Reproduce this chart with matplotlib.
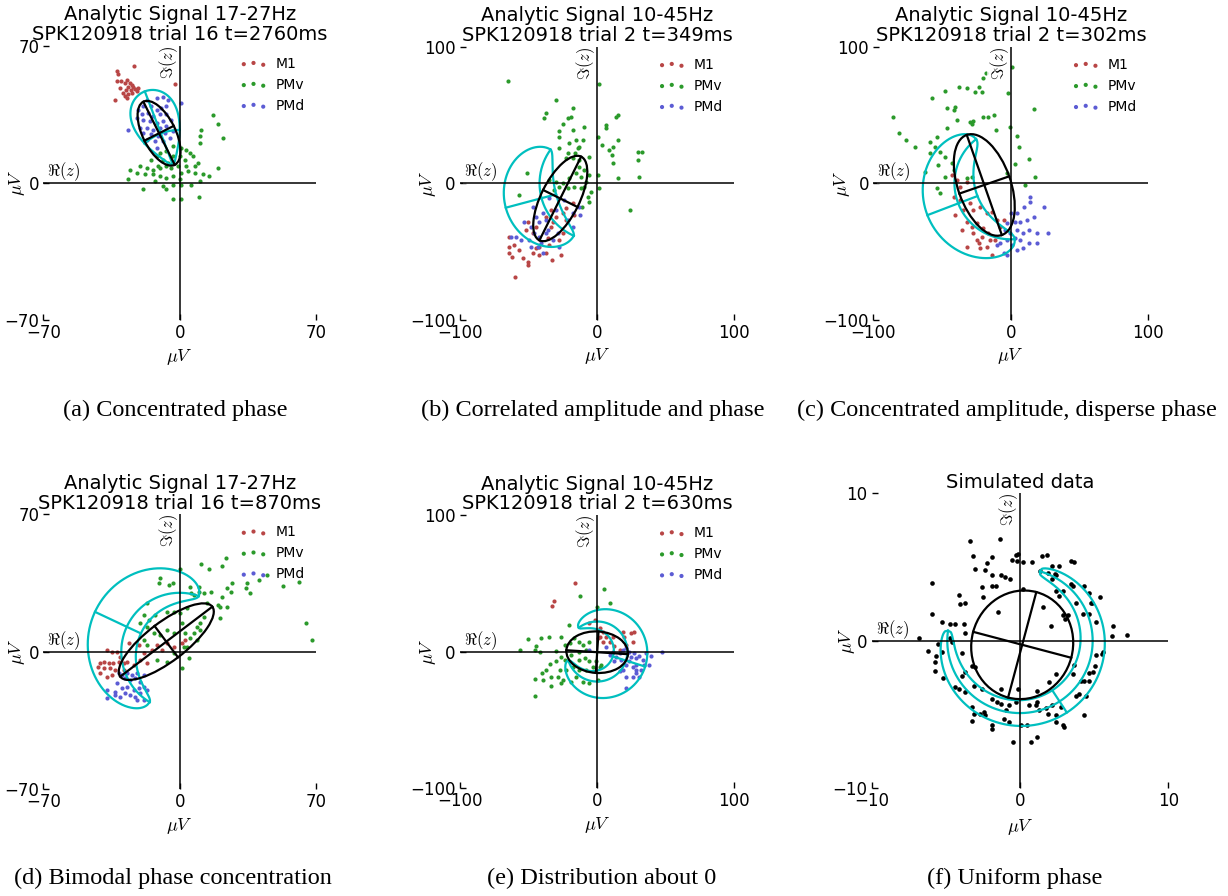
import numpy as np
import matplotlib
matplotlib.use('Agg')
import matplotlib.pyplot as plt
from matplotlib.patches import Ellipse

plt.rcParams['mathtext.fontset'] = 'cm'

# ---- data (microvolts) ----
m1_a = [(-32.3, 57.0), (-31.5, 55.8), (-23.5, 59.5), (-32.3, 51.9), (-30.3, 51.9), (-28.1, 51.0),
        (-27.2, 52.7), (-25.5, 51.0), (-24.7, 49.7), (-23.8, 49.0), (-26.4, 49.0), (-27.6, 47.6),
        (-25.2, 47.6), (-23.0, 48.0), (-21.3, 48.5), (-28.9, 45.9), (-28.1, 44.2), (-26.4, 45.1),
        (-24.7, 45.9), (-33.2, 42.5), (-27.2, 43.4), (-2.6, 50.2), (-22.1, 46.8), (-30.6, 48.5)]
pmd_a = [(-11.9, 43.4), (-8.5, 43.9), (-6.0, 42.5), (0.9, 40.8), (-17.0, 42.5), (-18.7, 39.1),
         (-14.5, 39.1), (-11.9, 37.4), (-9.4, 38.3), (-6.8, 39.1), (-21.3, 37.4), (-19.6, 34.9),
         (-16.2, 35.7), (-13.6, 34.0), (-10.2, 34.9), (-6.8, 34.9), (-22.1, 33.2), (-18.7, 32.3),
         (-15.3, 31.5), (-11.9, 30.6), (-8.5, 31.5), (-26.4, 27.2), (-20.4, 28.1), (-17.0, 28.1),
         (-13.6, 27.2), (-10.2, 28.1), (-6.8, 28.9), (-4.3, 32.3), (-18.7, 25.5), (-14.5, 24.7),
         (-11.1, 23.8), (-7.7, 25.5), (-3.4, 26.4), (-17.0, 22.1), (-12.8, 21.3), (-8.5, 21.3),
         (-5.1, 23.0), (-11.9, 17.9)]
pmv_a = [(17.0, 34.4), (19.6, 29.8), (22.1, 23.0), (11.1, 27.2), (10.2, 23.8), (10.2, 20.4),
         (3.4, 17.0), (5.1, 15.3), (0.9, 17.9), (-3.4, 18.7), (-6.8, 16.2), (-10.2, 15.3),
         (-11.9, 13.6), (-8.5, 11.9), (-6.0, 10.2), (-3.4, 13.6), (0.0, 13.6), (2.6, 11.9),
         (6.8, 13.6), (9.4, 10.2), (7.7, 8.5), (3.4, 8.5), (-0.9, 8.5), (-4.3, 7.7), (-6.8, 8.5),
         (-10.2, 7.7), (-13.6, 6.8), (-17.0, 7.7), (-20.4, 8.5), (-25.5, 6.8), (-22.1, 5.1),
         (-17.9, 4.3), (-13.6, 4.3), (-10.2, 3.4), (-6.8, 2.6), (-3.4, 3.4), (0.9, 5.1), (4.3, 6.0),
         (7.7, 5.1), (11.9, 4.3), (19.6, 7.7), (15.0, 3.4), (-26.4, 1.7), (-18.7, -3.4),
         (-12.8, 0.9), (-8.5, -1.7), (-6.8, -3.4), (-3.4, -0.9), (0.9, -0.9), (6.0, -0.9),
         (10.2, 0.9), (-3.4, -8.0), (0.9, -8.0), (9.7, -7.1), (0.0, 1.7), (-11.1, 8.8), (-14.5, 11.9)]

m1_b = [(-64.1, -39.0), (-64.6, -46.3), (-64.1, -51.2), (-60.5, -45.1), (-62.2, -53.7), (-59.8, -68.3),
        (-56.8, -48.8), (-53.9, -54.9), (-50.5, -57.3), (-50.7, -59.8), (-47.1, -51.2), (-44.6, -47.6),
        (-42.2, -46.3), (-37.3, -51.2), (-32.9, -56.1), (-26.3, -52.4), (-52.0, -34.1), (-50.7, -28.0),
        (-44.6, -31.7), (-33.7, -31.7), (-32.4, -28.0), (-30.0, -24.4), (-25.1, -22.0), (-22.7, -26.8),
        (-17.8, -14.6), (-16.6, -23.2), (-25.1, -36.6), (-27.6, -41.5), (-36.1, -40.2), (-34.9, -45.1),
        (-42.2, -52.4), (-47.1, -36.6), (-37.3, -24.4), (-33.7, -19.5), (-22.7, -18.3)]
pmv_b = [(-64.9, 74.9), (-30.0, 61.0), (1.2, 72.7), (-17.8, 54.9), (-37.3, 51.2), (-38.5, 47.6),
         (-19.0, 48.8), (-21.5, 47.6), (-24.6, 43.2), (-9.3, 41.5), (-28.0, 38.3), (-27.6, 34.1),
         (-17.8, 39.0), (-15.4, 31.7), (-20.2, 29.3), (-12.9, 26.8), (-14.1, 25.6), (-10.5, 31.7),
         (-27.6, 25.6), (-21.5, 22.0), (-15.9, 22.0), (-22.7, 18.3), (-17.8, 18.3), (-12.9, 17.1),
         (-5.6, 19.5), (0.5, 34.1), (6.1, 42.7), (6.1, 40.2), (13.9, 48.8), (15.1, 50.0), (3.7, 28.0),
         (8.5, 24.4), (11.5, 26.8), (15.1, 31.7), (11.0, 20.7), (11.5, 14.6), (29.8, 23.2), (32.9, 23.2),
         (29.8, 17.1), (30.5, 4.9), (15.1, 3.7), (23.7, -19.5), (-51.5, 7.3), (-56.8, -8.5), (-34.9, 2.4),
         (-30.0, 1.2), (-25.1, 0.0), (-20.2, 3.7), (-15.4, 7.3), (-12.9, 12.2), (-9.3, 9.8), (-11.7, 4.9),
         (-8.0, 1.2), (-5.6, 6.1), (-9.3, -2.4), (-4.4, -6.1), (-6.8, -9.8), (-11.7, -3.7), (-16.6, -2.4),
         (-21.5, -3.7), (-27.6, -2.4), (-31.2, -4.9), (0.5, 6.1), (1.2, -3.7), (-5.6, -13.4), (-11.0, -17.1)]
pmd_b = [(-62.9, -39.5), (-59.3, -39.5), (-53.2, -28.0), (-48.3, -31.7), (-47.1, -17.1), (-44.6, -24.4),
         (-45.9, -36.6), (-42.2, -28.0), (-39.8, -22.0), (-37.3, -26.8), (-36.1, -34.1), (-41.0, -43.9),
         (-37.3, -36.6), (-32.4, -41.5), (-28.8, -36.6), (-48.3, -46.3), (-43.4, -46.3), (-39.8, -51.2),
         (-27.6, -46.3), (-30.0, -19.5), (-23.9, -12.2), (-21.5, -26.8), (-17.8, -22.0), (-12.2, -23.2),
         (-12.9, -17.1), (-17.8, -31.7), (-34.9, -11.0), (-42.2, -39.0), (-49.5, -41.5), (-55.6, -41.5)]

m1_c = [(-43.0, 6.1), (-39.3, 2.4), (-32.0, 1.2), (-36.9, -2.4), (-41.7, -9.8), (-36.9, -12.2),
        (-40.5, -23.2), (-29.6, -14.6), (-34.5, -19.5), (-27.2, -19.5), (-22.3, -17.1), (-17.5, -22.0),
        (-13.8, -20.7), (-10.2, -26.8), (-7.8, -31.7), (-5.3, -26.8), (-32.0, -28.0), (-28.4, -31.7),
        (-24.8, -29.3), (-19.9, -32.9), (-16.3, -36.6), (-21.1, -39.0), (-27.2, -36.6), (-23.5, -43.9),
        (-32.0, -46.3), (-22.3, -47.6), (-17.5, -46.3), (-15.0, -41.5), (-11.4, -41.5), (-13.8, -52.4),
        (-24.8, -41.5), (-35.7, -34.1)]
pmv_c = [(0.7, 85.4), (-18.0, 81.0), (-19.9, 76.8), (-37.4, 70.2), (-32.0, 69.5), (-26.0, 67.1),
         (-22.8, 70.7), (-21.1, 67.1), (-2.4, 65.9), (-47.8, 67.8), (-57.0, 62.2), (-40.5, 56.1),
         (-41.7, 53.7), (-46.1, 54.9), (-85.9, 48.8), (-81.1, 36.6), (-76.2, 31.7), (-69.7, 26.8),
         (16.5, 54.1), (-39.3, 46.3), (-46.6, 40.2), (-29.6, 45.1), (-28.4, 43.4), (-27.2, 45.9),
         (-19.9, 48.8), (-16.3, 48.8), (-12.6, 50.0), (-10.7, 39.0), (-0.5, 41.5), (4.4, 34.6),
         (5.6, 26.8), (12.9, 17.6), (3.2, 14.1), (-2.9, 7.3), (10.4, -1.2), (17.7, 4.4), (-53.9, 34.1),
         (-55.1, 26.8), (-58.7, 30.5), (-58.7, 22.0), (-51.5, 23.2), (-47.8, 19.5), (-52.7, 13.4),
         (-43.0, 14.6), (-41.7, 9.8), (-47.8, 4.9), (-32.0, 3.7), (-28.4, 4.9), (-53.9, -3.7),
         (-51.5, -6.8), (-62.4, 8.5)]
pmd_c = [(13.6, -9.8), (14.1, -13.4), (9.7, -17.1), (4.4, -22.0), (0.0, -22.0), (6.8, -28.0),
         (11.7, -26.8), (16.5, -24.4), (23.8, -17.1), (3.2, -28.0), (-2.9, -29.3), (-4.1, -34.1),
         (-0.5, -36.6), (4.4, -34.1), (9.2, -36.6), (12.9, -34.1), (18.9, -36.6), (26.7, -36.1),
         (6.8, -41.5), (12.9, -43.9), (18.9, -43.9), (-2.9, -41.5), (-7.8, -43.9), (0.7, -45.1),
         (-5.3, -51.2), (-2.9, -52.4), (4.4, -48.8), (9.2, -47.6), (-10.2, -45.1), (3.2, -40.2)]

m1_d = [(-37.4, 0.8), (-34.8, 0.0), (-32.2, 0.0), (-40.8, -5.9), (-39.1, -5.1), (-36.5, -5.9),
        (-34.0, -5.9), (-31.4, -5.1), (-28.8, -5.9), (-27.1, -5.1), (-41.7, -7.6), (-39.1, -8.5),
        (-35.7, -8.5), (-33.1, -9.3), (-40.8, -11.0), (-37.4, -12.7), (-34.8, -11.9), (-30.5, -2.5),
        (-26.2, 4.2), (-21.1, 3.4), (-18.5, -0.8), (-14.2, 0.8), (-11.7, 3.4), (-9.1, 0.8), (-6.5, 4.2),
        (-3.1, 2.5), (1.2, 4.2), (2.9, 5.9), (-20.2, -4.2), (-16.8, -5.9), (-23.7, -6.8), (-28.8, -9.3)]
pmv_d = [(0.3, 41.9), (11.1, 44.5), (14.9, 41.9), (21.8, 43.6), (24.0, 47.9), (26.9, 35.1), (26.1, 30.6),
         (24.4, 32.3), (34.6, 34.8), (33.8, 32.3), (36.0, 29.7), (40.7, 36.5), (44.9, 39.0), (53.2, 33.4),
         (61.2, 35.7), (64.7, 14.4), (67.8, 5.9), (-9.9, 37.4), (-10.8, 34.8), (-5.7, 34.0), (-3.4, 34.8),
         (5.1, 33.1), (5.8, 29.7), (7.2, 28.9), (9.8, 33.1), (9.8, 30.6), (12.3, 29.7), (16.1, 30.6),
         (21.8, 28.0), (20.9, 22.9), (19.7, 23.8), (24.4, 22.9), (20.9, 17.0), (14.1, 24.6), (12.3, 17.8),
         (10.6, 14.4), (3.8, 22.1), (0.3, 19.5), (-3.1, 20.4), (-6.5, 20.4), (-12.5, 18.7), (-16.8, 24.6),
         (-18.5, 18.7), (-16.0, 16.1), (-20.2, 14.4), (-16.8, 12.7), (-13.4, 9.3), (-9.9, 8.5), (-6.5, 11.0),
         (-3.1, 9.3), (1.2, 14.4), (2.9, 9.3), (5.5, 6.8), (8.9, 5.9), (10.6, 11.0), (7.2, 9.3), (3.8, 2.5),
         (4.6, -3.4), (1.2, -8.5), (-6.5, -5.1), (-3.1, -0.8), (-11.7, -4.2), (2.1, 2.5), (8.9, 12.7),
         (-18.5, 5.9), (-16.8, 3.4)]
pmd_d = [(-31.4, -11.0), (-29.7, -11.9), (-27.1, -11.0), (-24.5, -11.9), (-22.0, -11.0), (-18.5, -11.9),
         (-28.0, -13.6), (-25.4, -14.4), (-22.8, -13.6), (-20.2, -15.3), (-32.2, -16.1), (-29.7, -18.7),
         (-27.1, -17.8), (-23.7, -19.5), (-21.1, -18.7), (-18.5, -17.8), (-16.8, -19.5), (-20.2, -21.2),
         (-22.8, -22.9), (-25.4, -22.1), (-28.0, -21.2), (-30.5, -22.9), (-33.1, -20.4), (-37.4, -19.5),
         (-37.4, -23.8), (-33.1, -22.1), (-18.5, -24.6), (-22.0, -24.6)]

m1_e = [(-16.5, 50.0), (-31.8, 37.1), (-32.8, 33.4), (-1.9, 23.2), (-5.6, 20.7), (1.7, 17.1), (4.1, 14.6),
        (2.2, 11.0), (6.6, 11.0), (9.0, 7.3), (4.6, 7.3), (0.5, 9.8), (12.6, 3.7), (18.7, 14.6),
        (24.8, 13.9), (27.2, 14.6), (26.0, 7.3), (11.4, 11.0), (21.1, 4.9), (16.3, 1.2), (19.2, 11.0)]
pmv_e = [(5.3, 45.6), (-12.4, 41.0), (9.5, 35.4), (-0.2, 32.9), (-20.6, 19.5), (-50.5, 9.3), (-41.3, 10.2),
         (-35.2, 10.5), (-26.2, 11.0), (-44.4, 4.1), (-56.1, 1.2), (-45.6, 1.2), (-42.0, -0.7), (-30.3, 0.5),
         (-23.1, 4.9), (-20.1, 6.1), (-17.0, 9.8), (-12.9, 7.3), (-10.4, 4.9), (-8.0, 1.2), (-5.6, 7.3),
         (-12.9, 0.0), (-18.9, -2.4), (-23.1, -6.1), (-26.2, -4.1), (-29.9, -7.3), (-34.7, -9.3),
         (-37.1, -13.4), (-40.0, -15.9), (-45.6, -20.2), (-39.6, -20.7), (-33.5, -18.3), (-28.6, -18.3),
         (-25.0, -20.7), (-22.6, -13.4), (-17.7, -11.0), (-12.9, -6.1), (-9.2, -4.9), (-5.6, -7.3),
         (-0.7, -7.3), (1.7, -11.0), (-3.2, -11.0), (-8.0, -13.4), (-12.9, -13.4), (-15.3, -18.3),
         (-10.4, -22.0), (-5.6, -23.2), (0.5, -20.7), (2.9, -9.8), (-33.5, -25.6), (-45.6, -32.9),
         (-26.2, -23.2), (-18.9, -22.0), (-27.4, -13.4)]
pmd_e = [(47.3, 0.0), (6.6, 3.2), (9.0, -2.4), (11.4, 0.0), (13.8, -4.1), (16.3, -1.2), (18.7, 1.2),
         (21.1, 2.4), (23.5, 0.0), (24.8, -3.7), (27.2, -1.2), (28.4, -4.9), (30.8, -3.2), (33.3, -6.1),
         (35.7, -1.2), (39.3, -3.2), (38.1, -9.8), (34.5, -9.8), (32.0, -13.4), (28.4, -13.4), (26.0, -11.0),
         (23.5, -7.3), (21.1, -9.8), (18.7, -13.4), (16.3, -14.6), (21.1, -18.3), (26.0, -18.3),
         (28.4, -15.9), (30.8, -18.3), (21.1, -26.8), (28.4, -9.8), (17.5, -6.1), (12.6, -7.3), (-5.6, 1.2)]

sim_f = [(-3.39, 6.79), (-1.36, 6.90), (-3.19, 5.73), (-1.88, 5.66), (-0.57, 5.51), (-0.11, 5.89),
         (-3.01, 4.88), (-2.22, 5.28), (-2.33, 4.83), (-1.88, 4.43), (-1.31, 4.49), (-1.02, 4.34),
         (-0.70, 4.20), (-0.29, 5.84), (-0.23, 5.39), (0.20, 5.33), (0.84, 5.33), (1.47, 5.73), (1.81, 5.80),
         (2.19, 5.10), (2.60, 5.10), (3.44, 5.44), (3.67, 5.35), (2.33, 4.56), (1.33, 4.72), (1.92, 4.61),
         (2.42, 4.49), (-2.56, 3.64), (-1.88, 3.71), (-1.65, 3.75), (-5.90, 3.89), (-4.14, 3.10),
         (-4.03, 2.47), (-3.69, 2.58), (-2.49, 2.97), (-1.47, 1.96), (0.20, 3.53), (1.56, 2.29), (2.08, 1.01),
         (2.19, 4.16), (2.42, 3.37), (2.65, 3.03), (2.87, 3.37), (3.44, 3.82), (3.60, 3.75), (4.34, 3.75),
         (2.87, 1.73), (3.21, 1.73), (3.05, 1.51), (3.78, 2.58), (4.64, 3.26), (4.80, 2.58), (5.41, 2.99),
         (4.86, 2.54), (4.23, 1.84), (4.64, 1.84), (5.14, 1.28), (6.27, 1.01), (6.22, 0.34), (7.24, 0.38),
         (-5.90, 1.84), (-5.23, 1.30), (-4.71, 1.12), (-4.37, 1.12), (-3.80, 1.17), (-3.69, 0.52),
         (-4.71, 0.18), (-4.59, -0.07), (-5.50, -0.22), (-6.18, -0.67), (-5.68, -1.06), (-5.23, -0.79),
         (-5.72, -1.46), (-5.72, -2.07), (-5.20, -2.54), (-6.81, 0.18), (-3.91, -0.85), (-3.69, -2.13),
         (-3.91, -2.36), (-3.24, -1.69), (-3.01, -1.80), (-4.37, -3.15), (-4.14, -3.26), (-3.69, -3.48),
         (-3.12, -3.03), (-2.56, -3.26), (-1.31, -3.26), (-0.11, -3.30), (1.97, -2.76), (2.42, -2.25),
         (3.67, -1.64), (3.55, -2.25), (4.12, -2.70), (4.34, -2.70), (4.64, -2.70), (3.78, -3.71),
         (4.00, -3.60), (4.46, -3.71), (5.59, -0.74), (5.54, -0.90), (5.14, -0.97), (5.09, -1.69),
         (4.91, -2.13), (4.64, -2.20), (-3.24, -4.49), (-3.12, -4.94), (-2.67, -4.94), (-2.44, -4.83),
         (-2.33, -5.06), (-1.88, -3.93), (-1.54, -4.16), (-1.31, -4.27), (-0.97, -4.72), (-0.75, -4.38),
         (-0.29, -4.16), (0.61, -4.38), (1.06, -4.38), (1.18, -4.16), (1.29, -4.72), (1.74, -4.56),
         (1.86, -4.94), (2.19, -4.38), (2.42, -5.06), (2.76, -4.49), (2.87, -5.73), (2.94, -5.84),
         (2.42, -5.51), (1.18, -6.52), (0.72, -6.85), (-0.45, -6.85), (-3.24, -5.46), (-1.88, -5.73),
         (-1.09, -5.28), (0.05, -5.73), (0.50, -5.73), (-0.75, -5.51), (4.34, -5.06), (1.18, -3.37),
         (-1.88, -5.96)]

titles = ['Analytic Signal 17-27Hz\nSPK120918 trial 16 t=2760ms',
          'Analytic Signal 10-45Hz\nSPK120918 trial 2 t=349ms',
          'Analytic Signal 10-45Hz\nSPK120918 trial 2 t=302ms',
          'Analytic Signal 17-27Hz\nSPK120918 trial 16 t=870ms',
          'Analytic Signal 10-45Hz\nSPK120918 trial 2 t=630ms',
          'Simulated data']
captions = ['(a) Concentrated phase', '(b) Correlated amplitude and phase',
            '(c) Concentrated amplitude, disperse phase', '(d) Bimodal phase concentration',
            '(e) Distribution about 0', '(f) Uniform phase']
limits = [70, 100, 100, 70, 100, 10]
groups = [(m1_a, pmv_a, pmd_a), (m1_b, pmv_b, pmd_b), (m1_c, pmv_c, pmd_c),
          (m1_d, pmv_d, pmd_d), (m1_e, pmv_e, pmd_e), None]
# covariance ellipse: centre x, centre y, semi-major, semi-minor, angle (deg)
ellipses = [(-10.6, 25.3, 18.0, 8.4, 116.6), (-26.9, -11.1, 34.2, 14.0, 63.6),
            (-19.3, -1.2, 38.8, 19.2, 109.2), (-6.9, 5.1, 29.6, 10.0, 37.0),
            (0.0, -0.5, 22.5, 15.2, -3.7), (0.15, -0.27, 3.7, 3.42, 75.1)]
# phase/amplitude contour: mean phase, half span (deg), mean amplitude, inner width, outer width, taper
crescents = [(111, 21, 27, 17, 23, 0.5), (195, 51, 42, 11, 27, 0.6), (201, 73, 41, 15, 24, 0.5),
             (155, 84, 30, 8, 18, 0.5), (-17.5, 145, 22, 10, 14.7, 0.45), (-57, 131, 4.9, 0.9, 0.9, 0.3)]

# axes boxes in figure fractions
boxes = [[0.0353, 0.6429, 0.2221, 0.3061], [0.3746, 0.6429, 0.2234, 0.3050],
         [0.7112, 0.6429, 0.2239, 0.3050], [0.0353, 0.1194, 0.2221, 0.3066],
         [0.3746, 0.1205, 0.2234, 0.3047], [0.7098, 0.1202, 0.2416, 0.3292]]
ylab_x = [-0.060, -0.080, -0.076, -0.060, -0.080, -0.050]
cap_pos = [(0.143, 0.542), (0.483, 0.542), (0.82, 0.542),
           (0.141, 0.020), (0.490, 0.020), (0.826, 0.020)]

colors = ['#b84646', '#2b9a2b', '#5c5cd4']
names = ['M1', 'PMv', 'PMd']


def draw_crescent(ax, mu, half, m, w_in, w_out, p):
    mu = np.deg2rad(mu)
    half = np.deg2rad(half)
    th = np.linspace(mu - half, mu + half, 400)
    f = np.clip((np.cos(th - mu) - np.cos(half)) / (1 - np.cos(half)), 0, None) ** p
    for r in (m + w_out * f, m - w_in * f, m + 0 * f):
        ax.plot(r * np.cos(th), r * np.sin(th), color='c', lw=1.6, zorder=3)
    rr = np.array([m - w_in, m + w_out])
    ax.plot(rr * np.cos(mu), rr * np.sin(mu), color='c', lw=1.6, zorder=3)


def draw_ellipse(ax, cx, cy, a, b, ang):
    ax.add_patch(Ellipse((cx, cy), 2 * a, 2 * b, angle=ang, fill=False,
                         edgecolor='k', lw=1.6, zorder=4))
    t = np.deg2rad(ang)
    for L, d in ((a, t), (b, t + np.pi / 2)):
        ax.plot([cx - L * np.cos(d), cx + L * np.cos(d)],
                [cy - L * np.sin(d), cy + L * np.sin(d)], color='k', lw=1.6, zorder=4)


fig = plt.figure(figsize=(12.28, 8.96), dpi=100)

for i in range(6):
    ax = fig.add_axes(boxes[i])
    L = limits[i]
    ax.set_xlim(-L, L)
    ax.set_ylim(-L, L)
    for s in ax.spines.values():
        s.set_visible(False)
    ax.set_xticks([-L, 0, L])
    ax.set_yticks([-L, 0, L])
    ax.tick_params(direction='in', length=4, width=1, labelsize=12, pad=3)
    ax.axhline(0, color='k', lw=1.1, zorder=6)
    ax.axvline(0, color='k', lw=1.1, zorder=6)

    if groups[i] is not None:
        for pts, c, n in zip(groups[i], colors, names):
            arr = np.array(pts)
            ax.scatter(arr[:, 0], arr[:, 1], s=9, color=c, linewidths=0, label=n, zorder=2)
        ax.legend(loc='upper right', frameon=False, fontsize=10, scatterpoints=3,
                  handletextpad=0.6, borderaxespad=0.4)
    else:
        arr = np.array(sim_f)
        ax.scatter(arr[:, 0], arr[:, 1], s=11, color='k', linewidths=0, zorder=2)

    draw_crescent(ax, *crescents[i])
    draw_ellipse(ax, *ellipses[i])

    ax.text(-L * 0.97, 0, r'$\Re(z)$', ha='left', va='bottom', fontsize=12, zorder=5,
            bbox=dict(facecolor='white', edgecolor='none', alpha=0.7, pad=0.5))
    ax.text(0, L, r'$\Im(z)$', ha='right', va='top', rotation=90, fontsize=12, zorder=5,
            bbox=dict(facecolor='white', edgecolor='none', alpha=0.7, pad=0.5))

    ax.set_xlabel(r'$\mu V$', fontsize=13)
    ax.set_ylabel(r'$\mu V$', fontsize=13)
    ax.xaxis.set_label_coords(0.5, -0.097)
    ax.yaxis.set_label_coords(ylab_x[i], 0.5)
    ax.set_title(titles[i], fontsize=14, pad=4, linespacing=1.05)

    fig.text(cap_pos[i][0], cap_pos[i][1], captions[i], ha='center', va='center',
             fontsize=17.5, family='Liberation Serif')

fig.savefig('out.png', dpi=100)
